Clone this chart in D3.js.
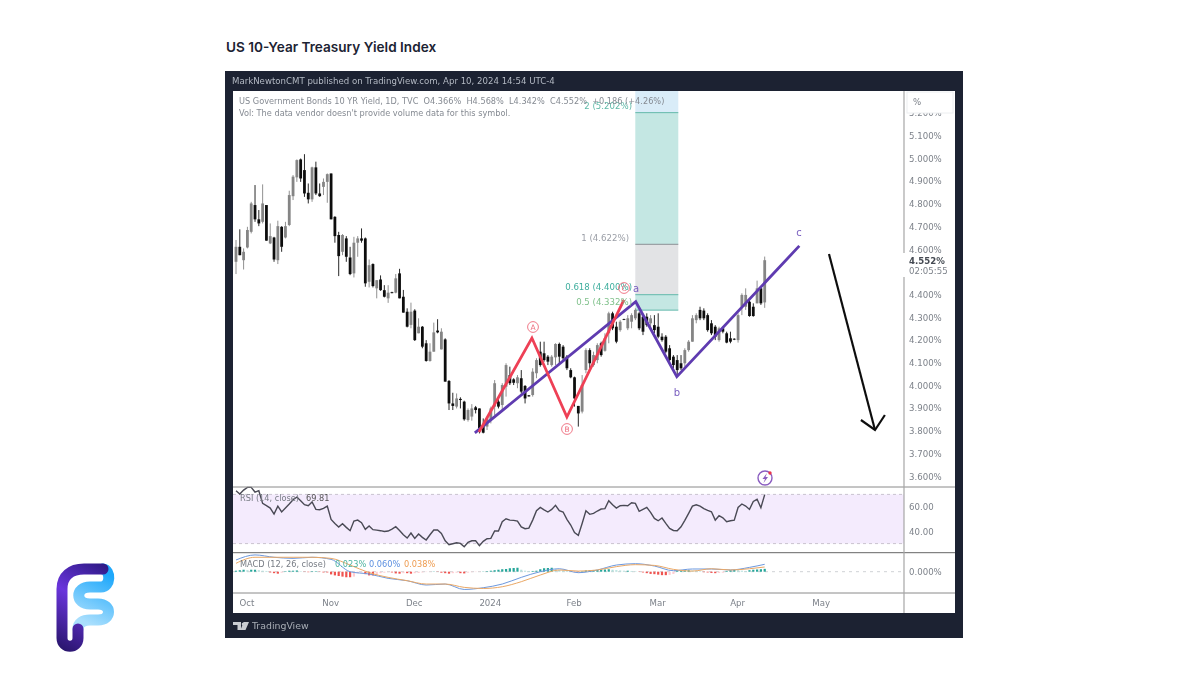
<!DOCTYPE html>
<html>
<head>
<meta charset="utf-8">
<script src="https://cdn.jsdelivr.net/npm/d3@7/dist/d3.min.js"></script>
<style>
  html, body { margin: 0; padding: 0; background: #fff; }
  svg { display: block; }
  text { font-family: "DejaVu Sans", sans-serif; }
</style>
</head>
<body>
<svg id="chart" width="1200" height="675"></svg>
<script>
// Daily candles (one entry per trading day)
const opens = [
  4.545,4.611,4.552,4.608,4.677,4.795,4.732,4.721,4.795,4.626,
  4.652,4.552,4.699,4.652,4.707,4.834,4.917,4.996,4.949,4.849,
  4.820,4.961,4.846,4.875,4.897,4.934,4.743,4.663,4.589,4.648,
  4.564,4.494,4.629,4.648,4.648,4.457,4.535,4.428,4.467,4.420,
  4.384,4.411,4.409,4.494,4.391,4.325,4.267,4.330,4.230,4.259,
  4.186,4.108,4.149,4.242,4.159,4.203,4.020,3.921,3.907,3.941,
  3.929,3.848,3.863,3.904,3.899,3.826,3.819,3.848,3.907,3.929,
  3.914,3.995,4.046,4.027,4.010,4.032,3.998,3.957,3.958,4.054,
  4.149,4.142,4.127,4.090,4.124,4.183,4.171,4.127,4.068,4.036,
  3.910,3.885,4.068,4.156,4.090,4.112,4.186,4.153,4.230,4.318,
  4.259,4.244,4.293,4.252,4.281,4.296,4.318,4.303,4.303,4.274,
  4.266,4.259,4.215,4.215,4.164,4.127,4.112,4.098,4.098,4.156,
  4.193,4.288,4.333,4.330,4.310,4.274,4.259,4.200,4.252,4.230,
  4.208,4.206,4.200,4.347,4.347,4.369,4.347,4.362,4.428,4.366
];
const highs = [
  4.641,4.688,4.604,4.699,4.809,4.883,4.773,4.886,4.795,4.714,
  4.655,4.726,4.702,4.721,4.858,4.927,4.996,5.000,5.019,4.890,
  4.964,4.986,4.890,4.912,4.934,4.934,4.746,4.677,4.667,4.658,
  4.611,4.655,4.658,4.692,4.652,4.555,4.538,4.464,4.485,4.442,
  4.442,4.413,4.491,4.514,4.421,4.340,4.365,4.336,4.296,4.262,
  4.200,4.186,4.277,4.292,4.252,4.208,4.024,3.968,3.965,3.948,
  3.933,3.899,3.918,3.910,3.899,3.855,3.863,3.907,4.024,3.943,
  4.010,4.098,4.083,4.032,4.046,4.068,4.002,3.958,4.076,4.120,
  4.193,4.193,4.134,4.134,4.186,4.189,4.178,4.134,4.076,4.039,
  3.910,4.046,4.164,4.164,4.149,4.186,4.193,4.230,4.325,4.325,
  4.281,4.288,4.294,4.310,4.318,4.340,4.325,4.310,4.318,4.310,
  4.310,4.318,4.230,4.222,4.178,4.134,4.134,4.134,4.164,4.200,
  4.310,4.318,4.347,4.340,4.318,4.288,4.266,4.259,4.259,4.237,
  4.237,4.208,4.318,4.406,4.428,4.377,4.362,4.462,4.435,4.568
];
const lows = [
  4.491,4.574,4.511,4.604,4.670,4.721,4.702,4.714,4.638,4.623,
  4.545,4.535,4.589,4.648,4.702,4.817,4.897,4.897,4.831,4.802,
  4.809,4.839,4.831,4.839,4.805,4.732,4.629,4.482,4.574,4.545,
  4.486,4.476,4.567,4.629,4.435,4.432,4.432,4.384,4.417,4.388,
  4.364,4.406,4.406,4.384,4.321,4.256,4.252,4.196,4.230,4.164,
  4.105,4.105,4.149,4.230,4.159,4.017,3.892,3.892,3.899,3.899,
  3.845,3.841,3.845,3.877,3.789,3.789,3.804,3.833,3.870,3.899,
  3.892,3.951,4.002,4.002,3.988,3.965,3.921,3.951,3.951,4.032,
  4.083,4.105,4.090,4.083,4.090,4.090,4.112,4.068,4.032,3.907,
  3.819,3.877,4.054,4.076,4.083,4.098,4.127,4.149,4.186,4.244,
  4.186,4.237,4.288,4.244,4.252,4.288,4.244,4.222,4.259,4.259,
  4.230,4.208,4.193,4.142,4.098,4.076,4.046,4.068,4.083,4.149,
  4.193,4.274,4.288,4.288,4.237,4.222,4.200,4.193,4.230,4.186,
  4.186,4.200,4.189,4.310,4.333,4.303,4.303,4.362,4.355,4.342
];
const closes = [
  4.611,4.574,4.589,4.685,4.802,4.732,4.714,4.802,4.638,4.658,
  4.555,4.702,4.611,4.702,4.839,4.920,4.993,4.912,4.846,4.820,
  4.961,4.846,4.834,4.897,4.931,4.732,4.658,4.570,4.663,4.567,
  4.491,4.629,4.648,4.638,4.450,4.530,4.438,4.464,4.420,4.391,
  4.409,4.407,4.472,4.384,4.321,4.259,4.325,4.200,4.259,4.171,
  4.108,4.149,4.234,4.234,4.237,4.017,3.921,3.910,3.943,3.936,
  3.851,3.892,3.899,3.892,3.811,3.792,3.855,3.899,4.010,3.907,
  4.002,4.090,4.010,4.012,4.036,3.973,3.943,3.952,4.061,4.112,
  4.090,4.112,4.105,4.127,4.183,4.127,4.120,4.076,4.036,3.943,
  3.877,4.002,4.156,4.098,4.134,4.178,4.134,4.208,4.318,4.252,
  4.193,4.281,4.290,4.296,4.310,4.333,4.252,4.237,4.266,4.296,
  4.244,4.215,4.200,4.149,4.112,4.090,4.068,4.076,4.156,4.193,
  4.296,4.310,4.296,4.296,4.244,4.230,4.215,4.252,4.237,4.189,
  4.193,4.202,4.310,4.399,4.399,4.306,4.306,4.428,4.362,4.552
];

// RSI, one value per bar
const rsiValues = [
  73.0,70.3,73.5,75.7,75.7,71.9,73.0,62.7,60.8,58.9,
  54.0,60.5,55.7,58.9,62.2,65.7,67.8,64.9,61.6,60.8,
  63.8,57.8,57.5,58.6,60.5,49.7,46.4,43.5,46.2,43.2,
  40.5,48.3,49.1,47.0,41.6,44.3,41.3,41.0,40.5,39.9,
  40.2,41.8,43.7,40.7,37.2,34.5,38.6,34.2,37.8,35.1,
  32.9,37.2,41.0,41.0,38.3,32.3,29.1,29.9,30.7,30.2,
  27.5,31.0,32.3,32.3,28.3,31.8,34.0,34.2,40.2,40.2,
  47.8,50.2,49.1,48.9,48.3,43.5,42.1,42.6,49.1,56.7,
  59.4,57.5,55.7,57.8,61.1,56.7,55.7,49.7,45.1,38.9,
  36.7,46.4,56.7,53.8,54.6,56.5,58.1,58.4,64.9,61.6,
  58.9,60.8,61.1,60.8,63.2,62.7,56.2,57.8,59.4,55.4,
  50.5,48.6,50.8,46.4,42.4,40.7,40.5,43.7,48.9,54.6,
  60.5,61.6,60.5,58.4,57.0,55.9,49.1,52.7,51.0,47.8,
  48.6,49.1,59.4,62.2,60.5,57.8,64.3,66.0,59.2,69.81
];

// MACD lines sampled along the bars
const macdBars = [0,5,10,15,20,25,30,35,40,45,50,55,60,65,70,75,80,85,90,95,100,105,110,115,120,125,130,135,139];
const macdLine = [.095,.136,.117,.108,.117,.100,0,-.019,-.054,-.073,-.108,-.100,-.144,-.130,-.100,-.046,0,.024,-.008,.014,.054,.065,.046,.008,.022,.022,.014,.035,.060];
const signalLine = [.068,.117,.117,.117,.117,.108,.054,-.008,-.046,-.073,-.100,-.100,-.127,-.136,-.122,-.081,-.027,.014,.005,.014,.041,.057,.051,.019,.005,.024,.014,.024,.038];
const histValues = [
  .008,.012,.016,.012,.016,.016,.012,.008,.006,-.006,
  -.012,-.016,-.008,.004,.008,.008,.010,.004,-.002,-.004,
  .004,.004,-.002,-.006,-.006,-.022,-.030,-.035,-.040,-.045,
  -.045,-.040,-.012,-.006,-.020,-.030,-.030,-.025,-.012,-.008,
  -.004,-.006,-.014,-.016,-.012,-.012,-.016,-.012,-.010,-.006,
  -.003,-.002,.002,-.002,-.008,-.012,-.016,-.012,-.008,-.012,
  -.014,-.008,-.004,-.003,-.002,.002,.004,.008,.012,.016,
  .020,.022,.028,.030,.032,.016,.008,.006,.006,.008,
  .020,.028,.030,.032,.020,.014,.010,.006,.003,-.003,
  -.004,.004,.010,.012,.014,.014,.016,.018,.020,.016,
  .012,.010,.008,.008,.006,.004,-.002,-.006,-.012,-.018,
  -.020,-.024,-.028,-.028,-.026,-.018,.006,.008,.010,.012,
  .010,.008,.004,-.004,-.006,-.010,-.012,-.010,-.008,.006,
  .012,.014,.012,.008,.006,.012,.016,.018,.020,.023
];

// Axis labels
const priceTicks = [5.2,5.1,5.0,4.9,4.8,4.7,4.6,4.4,4.3,4.2,4.1,4.0,3.9,3.8,3.7,3.6];
const rsiTicks = [60,40];
const monthTicks = [3,25,47,67,89,111,132,154];
const monthLabels = ["Oct","Nov","Dec","2024","Feb","Mar","Apr","May"];

// Fib levels of the projection box
const fibLevels = [2,1,0.618,0.5];
const fibPrices = [5.202,4.622,4.400,4.332];
const fibColors = ["#5fb9a8","#9a9ea6","#3fae9e","#7fc08a"];

// Wave drawings: [bar, price]
const purpleWave = [[62.8,3.791],[105.1,4.369],[115.9,4.039],[148.1,4.615]];
const redWave = [[63.9,3.795],[77.8,4.209],[87.0,3.861],[102,4.377]];
const arrowLine = [[155.9,4.579],[168,3.804]];
const arrowHead = [[164.3,3.848],[168,3.804],[170.6,3.870]];

const svg = d3.select("#chart");

// Page title
svg.append("text").attr("x", 226).attr("y", 52)
  .style("font-family", "Inter").style("font-weight", 600).style("font-size", "13.6px")
  .attr("fill", "#1c2333").text("US 10-Year Treasury Yield Index");

// Slight softening, the reference is a scaled screenshot
const defs = svg.append("defs");
defs.append("filter").attr("id", "soft")
  .attr("x", 0).attr("y", 0).attr("width", 1).attr("height", 1)
  .append("feGaussianBlur").attr("stdDeviation", 0.55);

const frame = svg.append("g").attr("filter", "url(#soft)");

// Dark frame and white pane
frame.append("rect").attr("x", 225).attr("y", 71).attr("width", 738).attr("height", 567).attr("fill", "#1a2030");
frame.append("rect").attr("x", 233).attr("y", 91).attr("width", 722).attr("height", 522).attr("fill", "#fff");
frame.append("text").attr("x", 232).attr("y", 84).attr("font-size", 8.6).attr("fill", "#b4bac4")
  .text("MarkNewtonCMT published on TradingView.com, Apr 10, 2024 14:54 UTC-4");

// Scales
const x = d3.scaleLinear().domain([0, closes.length - 1]).range([236, 764.7]);
const y = d3.scaleLinear().domain([5, 3.6]).range([158.5, 476.3]);
const yRsi = d3.scaleLinear().domain([60, 40]).range([506.7, 531.3]);
const yMacd = d3.scaleLinear().domain([0, 0.06]).range([571.7, 564.3]);

const paneL = 233, axisX = 904, paneR = 955;
const lineOf = d3.line().x(d => x(d[0])).y(d => y(d[1]));

// Fib projection box
const boxL = 635.3, boxR = 678.3;
frame.append("rect").attr("x", boxL).attr("y", 91).attr("width", boxR - boxL).attr("height", y(fibPrices[0]) - 91).attr("fill", "#d9ecf8");
frame.append("rect").attr("x", boxL).attr("y", y(fibPrices[0])).attr("width", boxR - boxL).attr("height", y(fibPrices[1]) - y(fibPrices[0])).attr("fill", "#c4e7e3");
frame.append("rect").attr("x", boxL).attr("y", y(fibPrices[1])).attr("width", boxR - boxL).attr("height", y(fibPrices[2]) - y(fibPrices[1])).attr("fill", "#e2e3e5");
frame.append("rect").attr("x", boxL).attr("y", y(fibPrices[2])).attr("width", boxR - boxL).attr("height", y(fibPrices[3]) - y(fibPrices[2])).attr("fill", "#c4e7e3");
frame.selectAll(".fibline").data(fibPrices).join("line")
  .attr("x1", boxL).attr("x2", boxR)
  .attr("y1", d => y(d)).attr("y2", d => y(d))
  .attr("stroke", (d, i) => i === 1 ? "#8a8f94" : "#62b8ab").attr("stroke-width", 1);

// Candles
const bars = d3.range(closes.length);
const candleColor = i => closes[i] >= opens[i] ? "#858585" : "#111";
frame.append("g").selectAll("line").data(bars).join("line")
  .attr("x1", i => x(i)).attr("x2", i => x(i))
  .attr("y1", i => y(highs[i])).attr("y2", i => y(lows[i]))
  .attr("stroke", candleColor).attr("stroke-width", 0.9);
frame.append("g").selectAll("rect").data(bars).join("rect")
  .attr("x", i => x(i) - 1.4).attr("width", 2.8)
  .attr("y", i => y(Math.max(opens[i], closes[i])))
  .attr("height", i => Math.max(0.8, Math.abs(y(opens[i]) - y(closes[i]))))
  .attr("fill", candleColor);

// Wave lines
frame.append("path").attr("d", lineOf(purpleWave)).attr("fill", "none")
  .attr("stroke", "#5e3bb0").attr("stroke-width", 2.8);
frame.append("path").attr("d", lineOf(redWave)).attr("fill", "none")
  .attr("stroke", "#ee3f55").attr("stroke-width", 2.8);

// Hand drawn arrow
frame.append("path").attr("d", lineOf(arrowLine)).attr("fill", "none").attr("stroke", "#111").attr("stroke-width", 2.2);
frame.append("path").attr("d", lineOf(arrowHead)).attr("fill", "none").attr("stroke", "#111").attr("stroke-width", 2.2);

// Fib labels
const fibLabelX = [632, 629, 632, 632];
frame.selectAll(".fiblabel").data(fibLevels).join("text")
  .attr("x", (d, i) => fibLabelX[i])
  .attr("y", (d, i) => y(fibPrices[i]) - (i === 1 ? 3 : i === 0 ? 4 : 5))
  .attr("text-anchor", "end").attr("font-size", 8.6)
  .attr("fill", (d, i) => fibColors[i])
  .text((d, i) => `${d} (${fibPrices[i].toFixed(3)}%)`);

// Wave labels
const circled = [["A", 533, 327], ["B", 567, 429], ["C", 624, 288]];
circled.forEach(([t, cx, cy]) => {
  frame.append("circle").attr("cx", cx).attr("cy", cy).attr("r", 5.4).attr("fill", "none").attr("stroke", "#ee6b7c").attr("stroke-width", 0.9);
  frame.append("text").attr("x", cx).attr("y", cy + 2.8).attr("text-anchor", "middle").attr("font-size", 7.5).attr("fill", "#ee6b7c").text(t);
});
[["a", 636, 292], ["b", 677, 396], ["c", 799, 236]].forEach(([t, tx, ty]) => {
  frame.append("text").attr("x", tx).attr("y", ty).attr("text-anchor", "middle").attr("font-size", 10).attr("fill", "#7a5fc0").text(t);
});

// Lightning badge above the last bar
frame.append("circle").attr("cx", 765).attr("cy", 478).attr("r", 7).attr("fill", "#fff").attr("stroke", "#8a5cc0").attr("stroke-width", 1.4);
frame.append("path").attr("d", "M767 473 L762.5 479 L765 479 L763.5 483 L768 477 L765.5 477 Z").attr("fill", "#8a5cc0");
frame.append("circle").attr("cx", 770).attr("cy", 473).attr("r", 1.7).attr("fill", "#e8364e");

// RSI pane
frame.append("rect").attr("x", paneL).attr("y", yRsi(70)).attr("width", axisX - paneL)
  .attr("height", yRsi(30) - yRsi(70)).attr("fill", "#f4ebfd");
[70, 30].forEach(v => {
  frame.append("line").attr("x1", paneL).attr("x2", axisX).attr("y1", yRsi(v)).attr("y2", yRsi(v))
    .attr("stroke", "#c9c3cf").attr("stroke-dasharray", "3 3");
});
frame.append("path").datum(rsiValues)
  .attr("d", d3.line().x((d, i) => x(i)).y(d => yRsi(d)))
  .attr("fill", "none").attr("stroke", "#4a4a55").attr("stroke-width", 1.4);

// MACD pane
frame.append("line").attr("x1", paneL).attr("x2", axisX).attr("y1", yMacd(0)).attr("y2", yMacd(0))
  .attr("stroke", "#cfd2d6").attr("stroke-dasharray", "3 4");
const histColor = (d, i) => {
  const prev = i > 0 ? histValues[i - 1] : 0;
  if (d >= 0) return d >= prev ? "#26a69a" : "#b2dfdb";
  return d <= prev ? "#ef5350" : "#ffcdd2";
};
frame.append("g").selectAll("rect").data(histValues).join("rect")
  .attr("x", (d, i) => x(i) - 1.1).attr("width", 2.2)
  .attr("y", d => Math.min(yMacd(0), yMacd(d)))
  .attr("height", d => Math.abs(yMacd(d) - yMacd(0)))
  .attr("fill", histColor);
const macdPath = d3.line().x((d, i) => x(macdBars[i])).y(d => yMacd(d)).curve(d3.curveMonotoneX);
frame.append("path").attr("d", macdPath(macdLine)).attr("fill", "none").attr("stroke", "#6c98de").attr("stroke-width", 1);
frame.append("path").attr("d", macdPath(signalLine)).attr("fill", "none").attr("stroke", "#eaa866").attr("stroke-width", 1);

// Pane separators
[487, 552.7, 593].forEach(v => {
  frame.append("line").attr("x1", paneL).attr("x2", paneR).attr("y1", v).attr("y2", v)
    .attr("stroke", v === 552.7 ? "#666" : "#8a8a8a").attr("stroke-width", 1);
});
frame.append("line").attr("x1", axisX).attr("x2", axisX).attr("y1", 91).attr("y2", 613)
  .attr("stroke", "#a6a6a6").attr("stroke-width", 1.2);

// Price axis
const tickStyle = g => {
  g.select(".domain").remove();
  g.selectAll(".tick line").remove();
  g.selectAll("text").attr("fill", "#7d828a").attr("font-size", 8.6).style("font-family", '"DejaVu Sans", sans-serif');
};
frame.append("g").attr("transform", `translate(${axisX + 5},0)`)
  .call(d3.axisRight(y).tickValues(priceTicks).tickFormat(d => d.toFixed(3) + "%").tickSize(0).tickPadding(0))
  .call(tickStyle);
frame.append("g").attr("transform", `translate(${axisX + 5},0)`)
  .call(d3.axisRight(yRsi).tickValues(rsiTicks).tickFormat(d => d.toFixed(2)).tickSize(0).tickPadding(0))
  .call(tickStyle);
frame.append("g").attr("transform", `translate(${axisX + 5},0)`)
  .call(d3.axisRight(yMacd).tickValues([0]).tickFormat(d => d.toFixed(3) + "%").tickSize(0).tickPadding(0))
  .call(tickStyle);

// Time axis
frame.append("g").attr("transform", "translate(-1,599.5)")
  .call(d3.axisBottom(x).tickValues(monthTicks).tickFormat((d, i) => monthLabels[i]).tickSize(0).tickPadding(0))
  .call(tickStyle);

// % button over the top of the price scale
frame.append("rect").attr("x", 907).attr("y", 92).attr("width", 46).attr("height", 21).attr("fill", "#fff").attr("stroke", "#eceef0");
frame.append("text").attr("x", 913).attr("y", 105).attr("font-size", 8.6).attr("fill", "#7d828a").text("%");

// Last price tag
frame.append("rect").attr("x", axisX - 1).attr("y", 253).attr("width", 50).attr("height", 24).attr("fill", "#fff");
frame.append("text").attr("x", axisX + 5).attr("y", 263.5).attr("font-size", 8.6).attr("font-weight", "bold").attr("fill", "#444a52")
  .text(closes[closes.length - 1].toFixed(3) + "%");
frame.append("text").attr("x", axisX + 5).attr("y", 274).attr("font-size", 8.6).attr("fill", "#7d828a").text("02:05:55");

// Legends
frame.append("text").attr("x", 239).attr("y", 104).attr("font-size", 8.2).attr("fill", "#858a92")
  .attr("xml:space", "preserve")
  .text("US Government Bonds 10 YR Yield, 1D, TVC  O4.366%  H4.568%  L4.342%  C4.552%  +0.186 (+4.26%)");
frame.append("text").attr("x", 239).attr("y", 116).attr("font-size", 8.2).attr("fill", "#858a92")
  .text("Vol: The data vendor doesn't provide volume data for this symbol.");
frame.append("text").attr("x", 240).attr("y", 501).attr("font-size", 8.2).attr("fill", "#777c84").text("RSI (14, close)");
frame.append("text").attr("x", 306).attr("y", 501).attr("font-size", 8.2).attr("fill", "#555").text(rsiValues[rsiValues.length - 1].toFixed(2));
frame.append("text").attr("x", 240).attr("y", 567).attr("font-size", 8.2).attr("fill", "#777c84").text("MACD (12, 26, close)");
[[335, "0.023%", "#4bb39f"], [369, "0.060%", "#5b8fe0"], [404, "0.038%", "#ee9c50"]].forEach(([tx, t, c]) => {
  frame.append("text").attr("x", tx).attr("y", 567).attr("font-size", 8.2).attr("fill", c).text(t);
});

// TradingView footer
frame.append("path").attr("d", "M233 622 H241 V630 H237.5 V625 H233 Z M243.5 622 H249 L245.5 630 H240.5 Z").attr("fill", "#c9ccd2");
frame.append("circle").attr("cx", 243).attr("cy", 624).attr("r", 1.3).attr("fill", "#c9ccd2");
frame.append("text").attr("x", 252).attr("y", 629).attr("font-size", 9.4).attr("fill", "#a9aeb6").text("TradingView");

// Brand mark in the bottom left corner
const gradPurple = defs.append("linearGradient").attr("id", "fPurple").attr("gradientUnits", "userSpaceOnUse")
  .attr("x1", 108).attr("y1", 567).attr("x2", 62).attr("y2", 648);
gradPurple.append("stop").attr("offset", 0).attr("stop-color", "#2f1a86");
gradPurple.append("stop").attr("offset", 0.45).attr("stop-color", "#6a35dc");
gradPurple.append("stop").attr("offset", 1).attr("stop-color", "#2b1670");
const gradBlue = defs.append("linearGradient").attr("id", "fBlue").attr("gradientUnits", "userSpaceOnUse")
  .attr("x1", 108).attr("y1", 575).attr("x2", 85).attr("y2", 622);
gradBlue.append("stop").attr("offset", 0).attr("stop-color", "#1fa8fb");
gradBlue.append("stop").attr("offset", 1).attr("stop-color", "#aadffd");
const logo = svg.append("g").attr("fill", "none").attr("stroke-width", 11).attr("stroke-linecap", "round");
logo.append("path").attr("stroke", "url(#fBlue)")
  .attr("d", "M103 569 C111 570 111 587 101 587 L90 587 C75 587 75 604 90 604 L98 604 C112 604 112 620 98 620 L90 620 C83 620 78 623 78 629");
logo.append("path").attr("stroke", "url(#fPurple)")
  .attr("d", "M78 629 L78 638 C78 649 62 649 62 638 L62 589 C62 576 71 569 84 569 L103 569");
</script>
</body>
</html>
